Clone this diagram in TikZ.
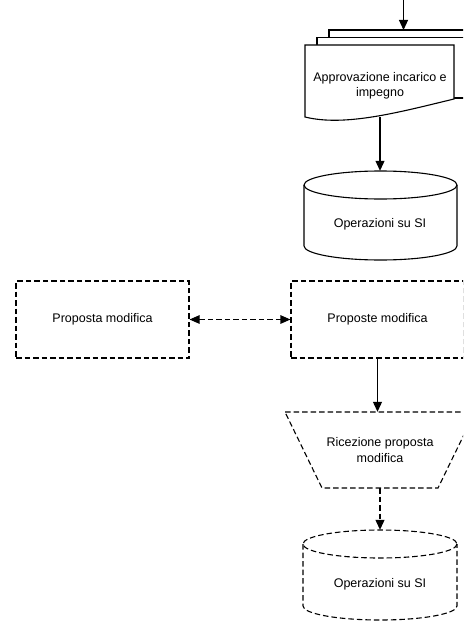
\documentclass[tikz,border=0pt]{standalone}
\usepackage{fontspec}
\setmainfont{Liberation Sans}
\usetikzlibrary{calc, arrows.meta}
\tikzstyle{dashrect} = [rectangle, minimum width=173pt, 
    minimum height=77pt, text centered, draw=black, line width=1.1pt, dash pattern=on 5.5pt off 3pt]
\tikzstyle{textrect} = [rectangle, minimum width=140pt, text centered, align=center]
\tikzstyle{outline} = [line width=1.1pt]
\tikzstyle{dashoutline} = [line width=1.1pt, dash pattern=on 5.5pt off 3pt]
\tikzstyle{arrow} = [line width=1.1pt,-{Triangle[length=10pt,width=9pt]}]
\tikzstyle{dasharrow} = [arrow, dash pattern=on 5.5pt off 3pt]
\tikzstyle{dblarrow} = [line width=1.1pt, dash pattern=on 5.5pt off 3pt,
    {Triangle[length=10pt,width=8.5pt]}-{Triangle[length=10pt,width=8.5pt]}]

\begin{document}
\begin{tikzpicture}[x=1pt, y=-1pt, node distance=134pt,
        font=\fontsize{12.5}{15.5}\selectfont]
    \useasboundingbox (0,0) rectangle (463,623);
    \clip (0,0) rectangle (463,623);

    % document stack
    \draw [outline] (329,37.5) -- (329,30) -- (478,30) -- (478,90) -- (466,90);
    \draw [outline] (317,45) -- (317,37.5) -- (466,37.5) -- (466,98) -- (454,98);
    \draw [outline, fill=white] (305,117) -- (305,45) -- (454,45) -- (454,99)
        .. controls (400,112) and (345,127) .. (305,117) -- cycle;

    % cylinders
    \draw [outline] (304,185) -- (304,246) arc [start angle=180, end angle=0,
        x radius=76.5, y radius=14] -- (457,185);
    \draw [outline] (380.5,185) ellipse [x radius=76.5, y radius=14];
    \draw [dashoutline] (303,544) -- (303,606) arc [start angle=180, end angle=0,
        x radius=77, y radius=14] -- (457,544);
    \draw [dashoutline] (380,544) ellipse [x radius=77, y radius=14];

    % manual operation
    \draw [dashoutline] (285,412) -- (475,412) -- (438,488) -- (322,488) -- cycle;

    % nodes
    \coordinate (Entry) at (403.5,0);
    \coordinate (StackTop) at (403.5,30);
    \node (Approvazione) [textrect, minimum height=62pt] at (380,86) {Approvazione incarico e\\impegno};
    \node (Operazioni1) [textrect, minimum height=106pt, below of=Approvazione, yshift=-4pt] {Operazioni su SI};
    \node (Proposte) [dashrect, below of=Operazioni1, yshift=38.5pt, xshift=-2.5pt] {Proposte modifica};
    \node (Proposta) [dashrect, left of=Proposte, xshift=-141pt] {Proposta modifica};
    \node (Ricezione) [textrect, minimum height=76pt, below of=Proposte, yshift=3.5pt, xshift=2.5pt] {Ricezione proposta\\modifica};
    \node (Operazioni2) [textrect, minimum height=108pt, below of=Ricezione] {Operazioni su SI};

    % arrows
    \draw [arrow] (Entry) -- (StackTop);
    \draw [arrow] (Approvazione.south) -- (Operazioni1.north);
    \draw [dblarrow] (Proposta) -- (Proposte);
    \draw [arrow] (Proposte.south) -- (Proposte.south |- Ricezione.north);
    \draw [dasharrow] (Ricezione.south) -- (Operazioni2.north);
\end{tikzpicture}
\end{document}
